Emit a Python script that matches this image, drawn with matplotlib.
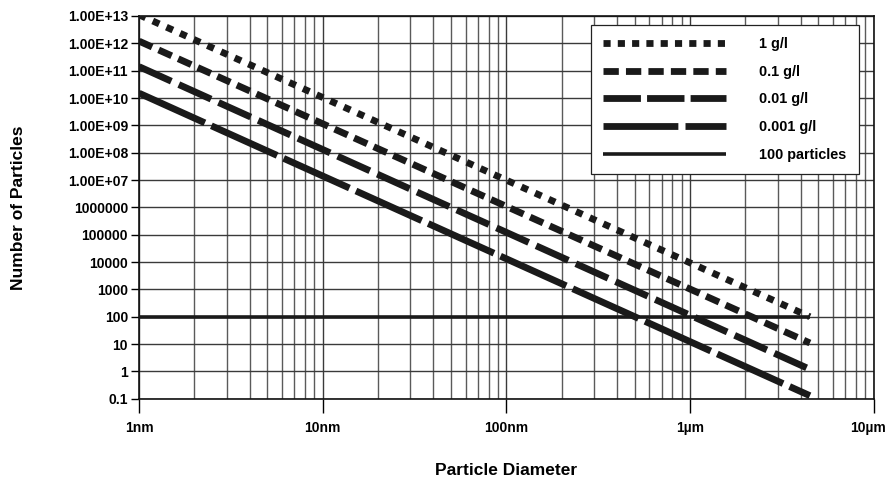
import matplotlib
matplotlib.use("Agg")
import matplotlib.pyplot as plt
import matplotlib.ticker as mticker
import matplotlib.transforms as mtransforms
from matplotlib.lines import Line2D

plt.rcParams["font.family"] = ["Liberation Sans", "DejaVu Sans"]
plt.rcParams["font.weight"] = "bold"

# diameters in metres (start, end of each line)
x_ends = [1e-9, 4.5e-6]

labels = ["1 g/l", "0.1 g/l", "0.01 g/l", "0.001 g/l", "100 particles"]
y_1g = [1.1e13, 100]
y_01g = [1.2e12, 11]
y_001g = [1.4e11, 1.2]
y_0001g = [1.5e10, 0.13]
y_100 = [100, 100]

x_ticks = [1e-9, 1e-8, 1e-7, 1e-6, 1e-5]
x_ticklabels = ["1nm", "10nm", "100nm", "1µm", "10µm"]
y_ticks = [1e13, 1e12, 1e11, 1e10, 1e9, 1e8, 1e7, 1e6, 1e5, 1e4, 1e3, 1e2, 10, 1, 0.1]
y_ticklabels = ["1.00E+13", "1.00E+12", "1.00E+11", "1.00E+10", "1.00E+09",
                "1.00E+08", "1.00E+07", "1000000", "100000", "10000", "1000",
                "100", "10", "1", "0.1"]

fig = plt.figure(figsize=(8.86, 4.84), dpi=100)
ax = fig.add_axes([0.157, 0.176, 0.829, 0.791])

col = "#1a1a1a"
lw = 4.9
series = [y_1g, y_01g, y_001g, y_0001g]
dashes = [(1.05, 1.15), (2.1, 1.05), (5.2, 1.2), (10.6, 1.05)]
for ys, d in zip(series, dashes):
    ax.plot(x_ends, ys, color=col, lw=lw, dashes=d, dash_capstyle="butt",
            solid_capstyle="butt", zorder=3)
ax.plot(x_ends, y_100, color=col, lw=2.6, zorder=3, solid_capstyle="butt")

ax.set_xscale("log")
ax.set_yscale("log")
ax.set_xlim(1e-9, 1e-5)
ax.set_ylim(0.1, 1e13)

ax.xaxis.set_major_locator(mticker.FixedLocator(x_ticks))
ax.xaxis.set_major_formatter(mticker.FixedFormatter(x_ticklabels))
ax.xaxis.set_minor_locator(mticker.LogLocator(base=10, subs=range(2, 10), numticks=20))
ax.xaxis.set_minor_formatter(mticker.NullFormatter())
ax.yaxis.set_major_locator(mticker.FixedLocator(y_ticks))
ax.yaxis.set_major_formatter(mticker.FixedFormatter(y_ticklabels))
ax.yaxis.set_minor_locator(mticker.NullLocator())

ax.grid(True, which="major", axis="both", color="#3a3a3a", lw=1.0)
ax.grid(True, which="minor", axis="x", color="#5a5a5a", lw=1.0)
ax.set_axisbelow(True)

ax.tick_params(axis="x", which="major", length=10, width=1, pad=6, labelsize=10)
ax.tick_params(axis="x", which="minor", length=0)
ax.tick_params(axis="y", which="major", length=6, width=1, pad=2, labelsize=10)
for lbl in ax.get_xticklabels() + ax.get_yticklabels():
    lbl.set_fontweight("bold")
# keep the last x label inside the picture
last = ax.get_xticklabels()[-1]
last.set_transform(last.get_transform() + mtransforms.ScaledTranslation(-6 / 100, 0, fig.dpi_scale_trans))

for s in ax.spines.values():
    s.set_color("#111111")
    s.set_linewidth(1.2)

ax.set_xlabel("Particle Diameter", fontsize=12.5, fontweight="bold", labelpad=20)
ax.set_ylabel("Number of Particles", fontsize=12.5, fontweight="bold", labelpad=30)

# legend handles use shorter dashes, like the original chart
leg_dashes = [(1.05, 1.05), (2.25, 1.05), (5.5, 0.9), (11, 1.05)]
handles = [Line2D([], [], color=col, lw=lw, dashes=d, dash_capstyle="butt") for d in leg_dashes]
handles.append(Line2D([], [], color=col, lw=2.6, solid_capstyle="butt"))
leg = ax.legend(handles, labels, loc="upper right", bbox_to_anchor=(0.98, 0.977),
                fontsize=10.4, handlelength=8.5, handletextpad=2.3, labelspacing=0.95,
                borderpad=0.85, borderaxespad=0, fancybox=False, framealpha=1,
                edgecolor="#222222")
leg.get_frame().set_linewidth(0.9)
for t in leg.get_texts():
    t.set_fontweight("bold")

fig.savefig("out.png", dpi=100)
